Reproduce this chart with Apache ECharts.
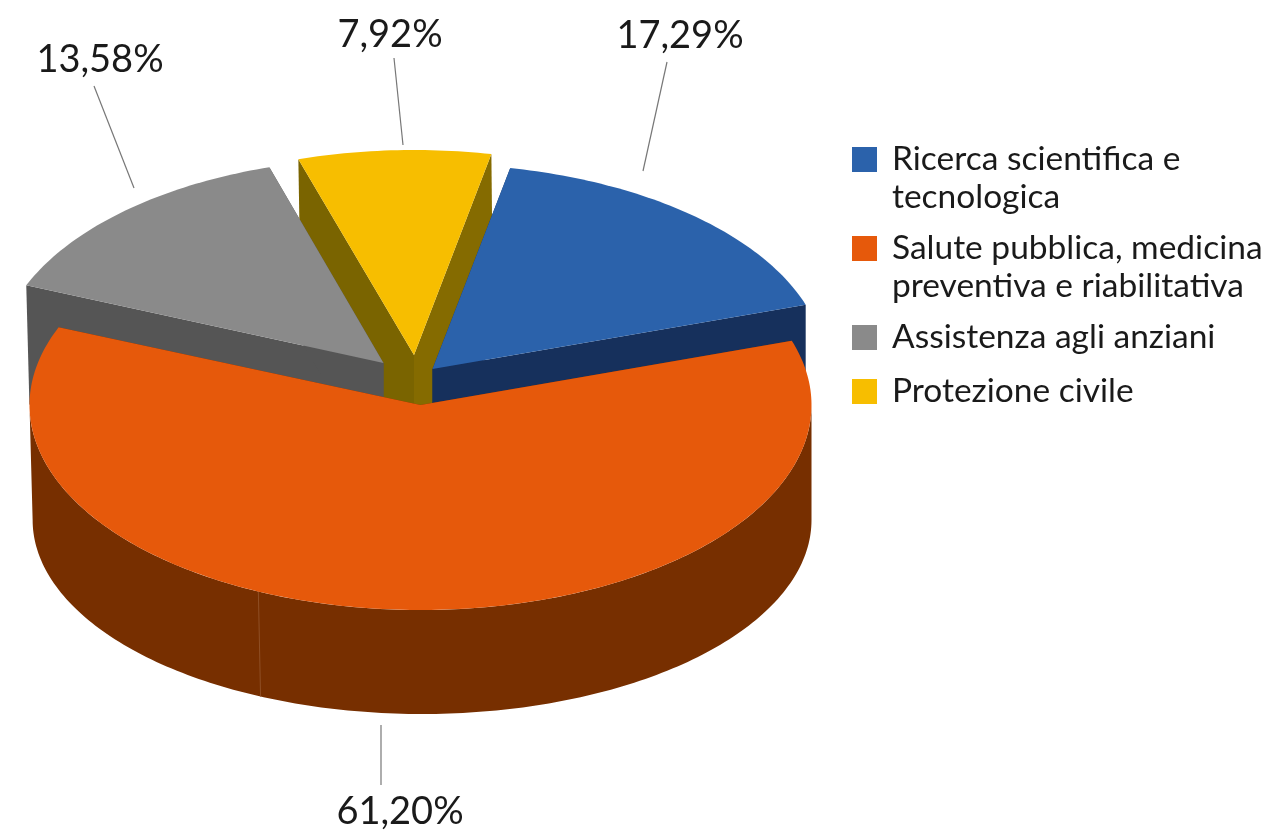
<!DOCTYPE html>
<html>
<head>
<meta charset="utf-8">
<style>
  html, body { margin: 0; padding: 0; background: #fff; }
  #chart { width: 1265px; height: 832px; }
</style>
<script src="https://cdn.jsdelivr.net/npm/echarts@6/dist/echarts.min.js"></script>
</head>
<body>
<div id="chart"></div>
<script>
var categories = ["Ricerca scientifica e tecnologica", "Salute pubblica, medicina preventiva e riabilitativa", "Assistenza agli anziani", "Protezione civile"];
var values = [17.29, 61.2, 13.58, 7.92];
var legendLines = [["Ricerca scientifica e", "tecnologica"], ["Salute pubblica, medicina", "preventiva e riabilitativa"], ["Assistenza agli anziani"], ["Protezione civile"]];

var topColors = ["#2b62ab", "#e6590b", "#8a8a8a", "#f7be00"];
var wallColors = ["#16305c", "#772f00", "#555555", "#856b00"];
var endWallColors = ["#16305c", "#772f00", "#555555", "#7a6400"];

// pie geometry, all in px
var sliceRx = [393, 391, 386, 391];
var ry = 205;
var firstAngle = 78.5; // degrees, slices go clockwise
var centers = [[432.5, 369], [420.5, 405], [383.5, 363], [414, 355]];
var zOrder = [3, 4, 2, 1];
var labelPos = [[680, 36], [400, 812], [100, 60], [390, 35]];
var leaders = [[667, 62, 643, 171], [381, 725, 381, 785], [94, 86, 134, 188], [394, 58, 403, 145]];
var legendTops = [104.5, 193.5, 320.5, 374.5];
var seamAngle = -114.5;
var fontName = "Lato";

var total = values.reduce(function (a, b) { return a + b; }, 0);

// excel's perspective pushes the side edges of the pie up a bit
function warp(deg) {
  return deg + 1.1 * (1 + Math.cos(2 * deg * Math.PI / 180));
}

function pt(c, rx, deg, down) {
  var a = deg * Math.PI / 180;
  var x = c[0] + rx * Math.cos(a);
  var y = c[1] - ry * Math.sin(a);
  // the bottom rim is a little smaller than the top one
  if (down) { x = x + (812 - x) * 0.004; y = c[1] + 115 - 194 * Math.sin(a); }
  return [x, y];
}

function arc(c, rx, from, to, down) {
  var pts = [];
  var n = Math.ceil(Math.abs(to - from)) + 1;
  for (var i = 0; i < n; i++) {
    pts.push(pt(c, rx, from + (to - from) * i / (n - 1), down));
  }
  return pts;
}

function poly(points, color) {
  return { type: "polygon", shape: { points: points }, style: { fill: color }, silent: true };
}

function renderSlice(idx) {
  return function (params, api) {
    var value = api.value(0);
    var before = 0;
    for (var i = 0; i < idx; i++) before += values[i];
    var rawStart = firstAngle - before / total * 360;
    var start = warp(rawStart);
    var end = warp(rawStart - value / total * 360);
    var c = centers[idx];
    var rx = sliceRx[idx];
    var cDown = [c[0], c[1] + 115];
    var kids = [];

    // radial walls
    kids.push(poly([c, pt(c, rx, start), pt(c, rx, start, true), cDown], endWallColors[idx]));
    kids.push(poly([c, pt(c, rx, end), pt(c, rx, end, true), cDown], wallColors[idx]));
    // outer wall, only the front half shows
    var wallFrom = Math.min(start, 0), wallTo = Math.max(end, -180);
    if (wallFrom > wallTo) {
      kids.push(poly(arc(c, rx, wallFrom, wallTo).concat(arc(c, rx, wallTo, wallFrom, true)), wallColors[idx]));
    }
    if (idx === 1) {
      var s1 = pt(c, rx, seamAngle), s2 = pt(c, rx, seamAngle, true);
      kids.push({ type: "line", shape: { x1: s1[0], y1: s1[1], x2: s2[0], y2: s2[1] }, style: { stroke: "#8f4f25", lineWidth: 1 }, silent: true });
    }
    // top face
    kids.push(poly([c].concat(arc(c, rx, start, end)), topColors[idx]));

    // leader and label
    var l = leaders[idx];
    kids.push({ type: "line", shape: { x1: l[0], y1: l[1], x2: l[2], y2: l[3] }, style: { stroke: "#777777", lineWidth: 1.2 }, silent: true });
    kids.push({
      type: "text", silent: true,
      style: {
        x: labelPos[idx][0], y: labelPos[idx][1],
        text: value.toFixed(2).replace(".", ",") + "%",
        fill: "#1a1a1a", font: "38px " + fontName, align: "center", verticalAlign: "middle"
      }
    });
    return { type: "group", children: kids };
  };
}

var series = categories.map(function (name, i) {
  return {
    type: "custom",
    name: name,
    coordinateSystem: "none",
    z: zOrder[i],
    itemStyle: { color: topColors[i] },
    renderItem: renderSlice(i),
    data: [[values[i]]]
  };
});

var legends = categories.map(function (name, i) {
  var lines = legendLines[i];
  return {
    left: 852,
    top: legendTops[i],
    padding: 0,
    selectedMode: false,
    itemWidth: 25,
    itemHeight: 25,
    itemGap: 0,
    data: [{ name: name, icon: "rect" }],
    formatter: function () {
      var txt = lines.map(function (s) { return "{t|" + s + "}"; }).join("\n");
      // blank first line keeps the first text line level with the square
      return lines.length > 1 ? "{b| }\n" + txt : txt;
    },
    textStyle: {
      rich: {
        t: { fontFamily: fontName, fontSize: 33.5, color: "#1a1a1a", lineHeight: 38, padding: [0, 0, 0, 10] },
        b: { fontFamily: fontName, fontSize: 33.5, lineHeight: 38 }
      }
    }
  };
});

var chart = echarts.init(document.getElementById("chart"), null, { renderer: "canvas" });
chart.setOption({
  animation: false,
  backgroundColor: "#ffffff",
  tooltip: { show: false },
  legend: legends,
  series: series
});
</script>
</body>
</html>
